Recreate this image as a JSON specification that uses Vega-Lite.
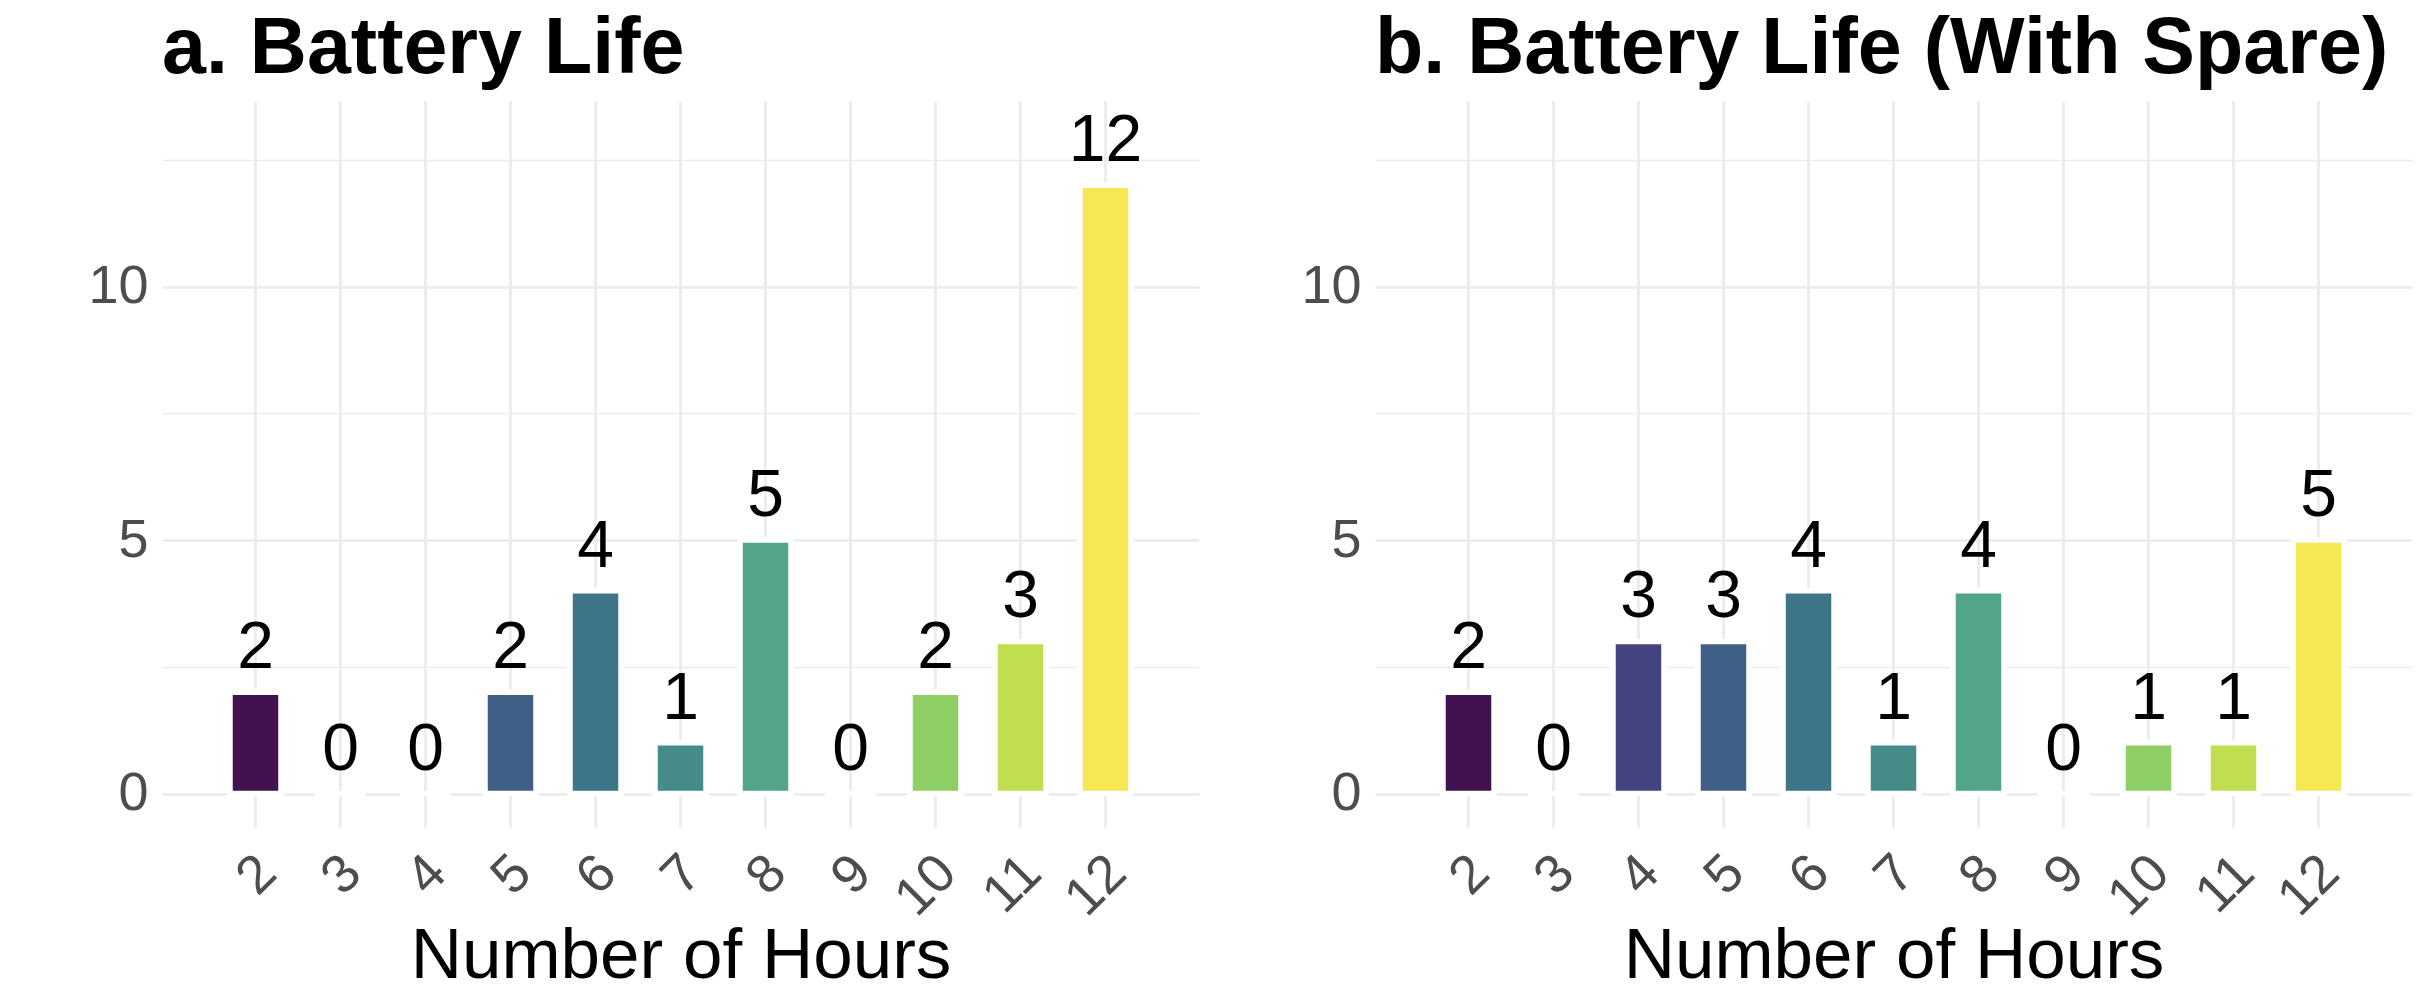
{
  "$schema": "https://vega.github.io/schema/vega-lite/v6.json",
  "background": "white",
  "padding": {"left": 87, "top": 10, "right": 0, "bottom": 0},
  "bounds": "flush",
  "spacing": 176,
  "datasets": {
    "a": [
      {"hours": 2, "count": 2},
      {"hours": 3, "count": 0},
      {"hours": 4, "count": 0},
      {"hours": 5, "count": 2},
      {"hours": 6, "count": 4},
      {"hours": 7, "count": 1},
      {"hours": 8, "count": 5},
      {"hours": 9, "count": 0},
      {"hours": 10, "count": 2},
      {"hours": 11, "count": 3},
      {"hours": 12, "count": 12}
    ],
    "b": [
      {"hours": 2, "count": 2},
      {"hours": 3, "count": 0},
      {"hours": 4, "count": 3},
      {"hours": 5, "count": 3},
      {"hours": 6, "count": 4},
      {"hours": 7, "count": 1},
      {"hours": 8, "count": 4},
      {"hours": 9, "count": 0},
      {"hours": 10, "count": 1},
      {"hours": 11, "count": 1},
      {"hours": 12, "count": 5}
    ]
  },
  "config": {
    "font": "Liberation Sans",
    "view": {"stroke": null},
    "title": {
      "font": "Liberation Sans",
      "fontSize": 79,
      "fontWeight": "bold",
      "color": "black",
      "anchor": "start",
      "frame": "group",
      "baseline": "alphabetic",
      "offset": 11
    },
    "axis": {
      "labelFont": "Liberation Sans",
      "titleFont": "Liberation Sans",
      "labelColor": "#4d4d4d",
      "titleColor": "black",
      "titleFontWeight": "normal",
      "gridColor": "#ebebeb",
      "ticks": false,
      "domain": false
    },
    "legend": {"disable": true}
  },
  "hconcat": [
    {
      "title": "a. Battery Life",
      "width": 1037,
      "height": 726,
      "data": {"name": "a"},
      "encoding": {
        "x": {
          "field": "hours",
          "type": "ordinal",
          "title": "Number of Hours",
          "scale": {"paddingInner": 0.4, "paddingOuter": 0.8},
          "axis": {
            "grid": true,
            "gridWidth": 2.7,
            "bandPosition": 0.5,
            "labelAngle": -45,
            "labelAlign": "right",
            "labelBaseline": "top",
            "labelOffset": -7,
            "labelFontSize": 54,
            "labelPadding": 18,
            "titleFontSize": 71,
            "titlePadding": -4
          }
        },
        "y": {
          "field": "count",
          "type": "quantitative",
          "title": null,
          "scale": {"domain": [-0.66, 13.66], "nice": false, "zero": false},
          "axis": {
            "values": [0, 2.5, 5, 7.5, 10, 12.5],
            "labelExpr": "datum.value % 5 === 0 ? '' + datum.value : ''",
            "grid": true,
            "gridWidth": {"condition": {"test": "datum.value % 5 === 0", "value": 2.7}, "value": 1.4},
            "labelFontSize": 54,
            "labelPadding": 14
          }
        }
      },
      "layer": [
        {
          "mark": {"type": "bar", "stroke": "white", "strokeWidth": 5.5},
          "encoding": {
            "y2": {"datum": 0},
            "color": {
              "field": "hours",
              "type": "ordinal",
              "scale": {
                "domain": [2, 3, 4, 5, 6, 7, 8, 9, 10, 11, 12],
                "range": ["#421150", "#472c72", "#43437f", "#3f5f86", "#3e7589", "#458b88", "#52a586", "#6dbd73", "#8dcf62", "#c1de51", "#f6e755"]
              }
            }
          }
        },
        {
          "mark": {"type": "text", "fontSize": 66, "baseline": "alphabetic", "dy": -24, "color": "black"},
          "encoding": {"text": {"field": "count", "type": "quantitative"}}
        }
      ]
    },
    {
      "title": "b. Battery Life (With Spare)",
      "width": 1037,
      "height": 726,
      "data": {"name": "b"},
      "encoding": {
        "x": {
          "field": "hours",
          "type": "ordinal",
          "title": "Number of Hours",
          "scale": {"paddingInner": 0.4, "paddingOuter": 0.8},
          "axis": {
            "grid": true,
            "gridWidth": 2.7,
            "bandPosition": 0.5,
            "labelAngle": -45,
            "labelAlign": "right",
            "labelBaseline": "top",
            "labelOffset": -7,
            "labelFontSize": 54,
            "labelPadding": 18,
            "titleFontSize": 71,
            "titlePadding": -4
          }
        },
        "y": {
          "field": "count",
          "type": "quantitative",
          "title": null,
          "scale": {"domain": [-0.66, 13.66], "nice": false, "zero": false},
          "axis": {
            "values": [0, 2.5, 5, 7.5, 10, 12.5],
            "labelExpr": "datum.value % 5 === 0 ? '' + datum.value : ''",
            "grid": true,
            "gridWidth": {"condition": {"test": "datum.value % 5 === 0", "value": 2.7}, "value": 1.4},
            "labelFontSize": 54,
            "labelPadding": 14
          }
        }
      },
      "layer": [
        {
          "mark": {"type": "bar", "stroke": "white", "strokeWidth": 5.5},
          "encoding": {
            "y2": {"datum": 0},
            "color": {
              "field": "hours",
              "type": "ordinal",
              "scale": {
                "domain": [2, 3, 4, 5, 6, 7, 8, 9, 10, 11, 12],
                "range": ["#421150", "#472c72", "#43437f", "#3f5f86", "#3e7589", "#458b88", "#52a586", "#6dbd73", "#8dcf62", "#c1de51", "#f6e755"]
              }
            }
          }
        },
        {
          "mark": {"type": "text", "fontSize": 66, "baseline": "alphabetic", "dy": -24, "color": "black"},
          "encoding": {"text": {"field": "count", "type": "quantitative"}}
        }
      ]
    }
  ]
}
